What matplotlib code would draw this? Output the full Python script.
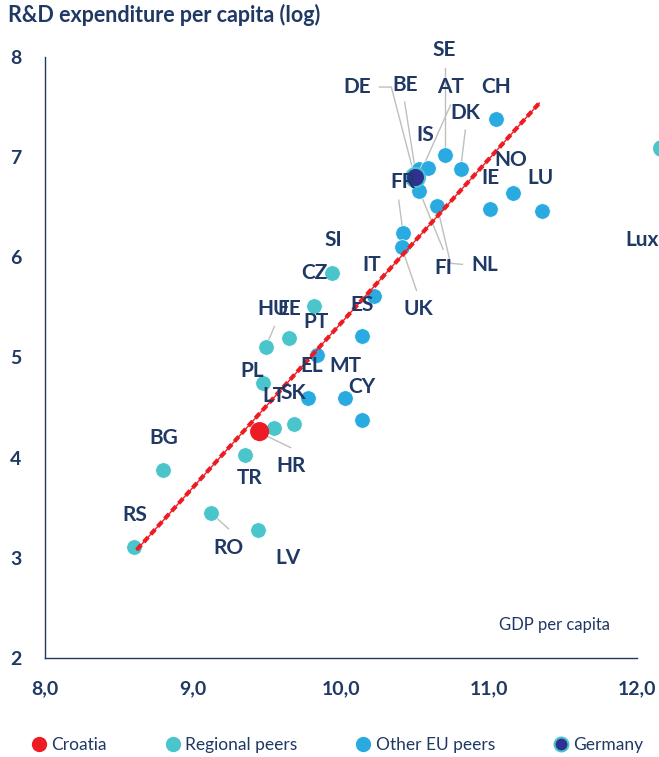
import matplotlib
matplotlib.use("Agg")
import matplotlib.pyplot as plt
from matplotlib.lines import Line2D

NAVY = "#1F3864"
COL = {"croatia": "#ED1C24", "regional": "#4BC5CC", "other": "#29ABE2", "germany": "#2E3192"}

# points: code, gdp per capita (log), R&D per capita (log), group
codes = ["RS", "BG", "RO", "LV", "TR", "LT", "SK", "PL", "HU", "EE", "CZ", "SI",
         "PT", "EL", "MT", "CY", "ES", "IT",
         "FR", "UK", "NL", "FI", "AT", "IS", "SE", "DK", "CH", "IE", "NO", "LU", "BE",
         "HR", "DE"]
gdp = [8.60, 8.80, 9.12, 9.44, 9.35, 9.55, 9.68, 9.47, 9.49, 9.65, 9.82, 9.94,
       9.84, 9.78, 10.03, 10.14, 10.14, 10.22,
       10.42, 10.41, 10.65, 10.53, 10.53, 10.59, 10.70, 10.81, 11.05, 11.01, 11.16, 11.36, 10.50,
       9.45, 10.50]
rnd = [3.11, 3.88, 3.45, 3.28, 4.03, 4.30, 4.34, 4.75, 5.10, 5.19, 5.51, 5.84,
       5.02, 4.60, 4.60, 4.38, 5.21, 5.61,
       6.24, 6.10, 6.51, 6.66, 6.88, 6.89, 7.02, 6.88, 7.38, 6.48, 6.64, 6.46, 6.82,
       4.26, 6.80]
group = ["regional"] * 12 + ["other"] * 19 + ["croatia", "germany"]

# fitted trend line end points
trend_x = [8.62, 11.34]
trend_y = [3.08, 7.54]

# label text positions (data coords)
labels = {"SE": (10.70, 8.07), "DE": (10.11, 7.70), "BE": (10.43, 7.72), "AT": (10.74, 7.70),
          "CH": (11.05, 7.70), "DK": (10.84, 7.44), "IS": (10.57, 7.22), "NO": (11.15, 6.97),
          "IE": (11.01, 6.79), "LU": (11.35, 6.79), "FR": (10.42, 6.75), "SI": (9.95, 6.17),
          "IT": (10.21, 5.92), "FI": (10.69, 5.89), "NL": (10.97, 5.92), "CZ": (9.82, 5.84),
          "HU": (9.54, 5.48), "EE": (9.65, 5.48), "UK": (10.52, 5.48), "ES": (10.14, 5.52),
          "PT": (9.83, 5.35), "PL": (9.40, 4.87), "EL": (9.80, 4.92), "MT": (10.03, 4.92),
          "CY": (10.14, 4.71), "LT": (9.55, 4.62), "SK": (9.68, 4.65), "BG": (8.80, 4.20),
          "HR": (9.66, 3.92), "TR": (9.38, 3.80), "RS": (8.61, 3.43), "RO": (9.24, 3.10),
          "LV": (9.64, 3.00)}

# leader lines
leaders = [
    [(10.70, 7.89), (10.70, 7.07)],
    [(10.26, 7.70), (10.34, 7.70), (10.49, 6.85)],
    [(10.43, 7.55), (10.50, 6.89)],
    [(10.74, 7.52), (10.55, 6.89)],
    [(10.84, 7.27), (10.81, 6.90)],
    [(10.39, 6.57), (10.42, 6.24)],
    [(10.51, 5.67), (10.41, 6.10)],
    [(10.69, 6.08), (10.53, 6.66)],
    [(10.82, 5.93), (10.74, 5.94), (10.65, 6.51)],
    [(9.55, 5.31), (9.49, 5.10)],
    [(9.66, 4.10), (9.45, 4.25)],
    [(9.24, 3.29), (9.12, 3.45)],
]

xticks = [8.0, 9.0, 10.0, 11.0, 12.0]
yticks = [2, 3, 4, 5, 6, 7, 8]

plt.rcParams["font.family"] = ["Lato", "DejaVu Sans"]

fig = plt.figure(figsize=(6.59, 7.57), dpi=100)
ax = fig.add_axes([0.0683, 0.1308, 0.8983, 0.7939])
ax.set_xlim(8, 12)
ax.set_ylim(2, 8)

for pts in leaders:
    ax.plot([p[0] for p in pts], [p[1] for p in pts], color="#BFBFBF", lw=1, zorder=1)

order = ["regional", "other", "croatia", "germany"]
for g in order:
    xs = [x for x, gg in zip(gdp, group) if gg == g]
    ys = [y for y, gg in zip(rnd, group) if gg == g]
    if g == "germany":
        ax.scatter(xs, ys, s=190, color=COL[g], edgecolor=COL["regional"], linewidth=1.5, zorder=5)
    elif g == "croatia":
        ax.scatter(xs, ys, s=190, color=COL[g], edgecolor="none", zorder=4)
    else:
        ax.scatter(xs, ys, s=125, color=COL[g], edgecolor="white", linewidth=0.5, zorder=2)

ax.plot(trend_x, trend_y, color="#ED1C24", lw=1, zorder=3)
ax.plot(trend_x, trend_y, color="#ED1C24", lw=3, ls=(0, (1.6, 0.9)), zorder=3)

for code, (lx, ly) in labels.items():
    ax.text(lx, ly, code, ha="center", va="center", fontsize=15, fontweight="bold", color=NAVY, zorder=6)

# clipped items at the right edge of the original picture
ax.scatter([12.16], [7.09], s=125, color=COL["regional"], clip_on=False, zorder=2)
ax.text(11.92, 6.17, "Luxembourg", ha="left", va="center", fontsize=15, fontweight="bold",
        color=NAVY, clip_on=False)
ax.text(12.14, 7.54, "L", ha="left", va="center", fontsize=15, fontweight="bold", color=NAVY, clip_on=False)
ax.text(12.14, 3.51, "L", ha="left", va="center", fontsize=15, fontweight="bold", color=NAVY, clip_on=False)

ax.text(11.82, 2.33, "GDP per capita", ha="right", va="center", fontsize=12, color=NAVY)

ax.set_xticks(xticks)
ax.set_xticklabels([f"{t:.1f}".replace(".", ",") for t in xticks])
ax.set_yticks(yticks)
ax.tick_params(length=0, labelsize=14, labelcolor=NAVY, pad=17)
for lab in ax.get_xticklabels() + ax.get_yticklabels():
    lab.set_fontweight("bold")
ax.tick_params(axis="x", pad=16)
for s in ["top", "right"]:
    ax.spines[s].set_visible(False)
for s in ["left", "bottom"]:
    ax.spines[s].set_color(NAVY)
    ax.spines[s].set_linewidth(1)

fig.text(0.012, 0.980, "R&D expenditure per capita (log)", ha="left", va="center",
         fontsize=15.5, fontweight="bold", color=NAVY)

handles = [
    Line2D([], [], marker="o", ls="none", markersize=10, color=COL["croatia"], label="Croatia"),
    Line2D([], [], marker="o", ls="none", markersize=10, color=COL["regional"], label="Regional peers"),
    Line2D([], [], marker="o", ls="none", markersize=10, color=COL["other"], label="Other EU peers"),
    Line2D([], [], marker="o", ls="none", markersize=10, markerfacecolor=COL["germany"],
           markeredgecolor=COL["regional"], markeredgewidth=1.5, label="Germany"),
]
leg = fig.legend(handles=handles, loc="center", bbox_to_anchor=(0.51, 0.016), ncol=4, frameon=False,
                 fontsize=12.5, handletextpad=0.1, columnspacing=3.2, handlelength=1.2)
for t in leg.get_texts():
    t.set_color(NAVY)

fig.savefig("out.png", dpi=100)
